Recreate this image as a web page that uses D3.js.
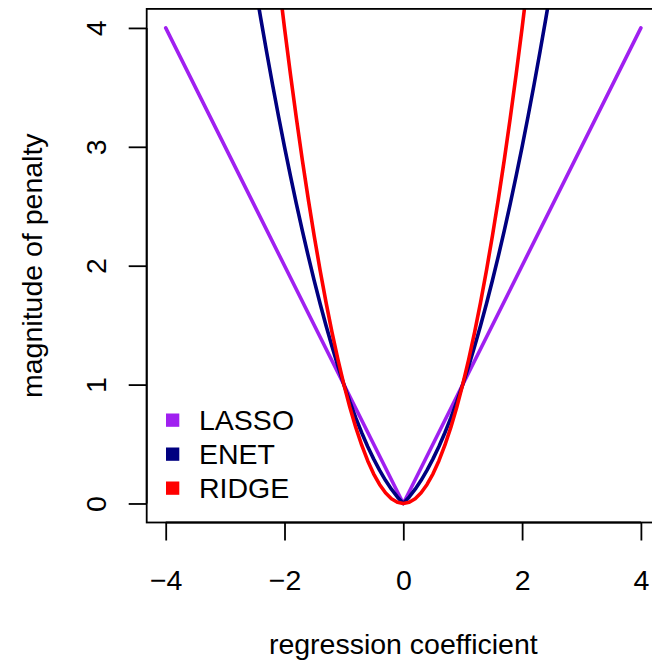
<!DOCTYPE html>
<html>
<head>
<meta charset="utf-8">
<script src="https://cdn.jsdelivr.net/npm/d3@7"></script>
<style>
  html, body { margin: 0; padding: 0; background: #fff; }
  svg { display: block; }
  text { font-family: "Liberation Sans", Arial, Helvetica, sans-serif; fill: #000; }
</style>
</head>
<body>
<svg id="chart" width="652" height="665"></svg>
<script>
// ---- data ----
const seriesNames = ["LASSO", "ENET", "RIDGE"];
const seriesColors = ["#A020F0", "#000080", "#FF0000"];

const lassoX = [-4, 0, 4];
const lassoY = [4, 0, 4];

const coefX = [-2.6, -2.5, -2.4, -2.3, -2.2, -2.1, -2.0, -1.9, -1.8, -1.7, -1.6, -1.5, -1.4, -1.3, -1.2, -1.1,
  -1.0, -0.9, -0.8, -0.7, -0.6, -0.5, -0.4, -0.3, -0.2, -0.1, 0,
  0.1, 0.2, 0.3, 0.4, 0.5, 0.6, 0.7, 0.8, 0.9, 1.0,
  1.1, 1.2, 1.3, 1.4, 1.5, 1.6, 1.7, 1.8, 1.9, 2.0, 2.1, 2.2, 2.3, 2.4, 2.5, 2.6];

const enetY = [4.68, 4.375, 4.08, 3.795, 3.52, 3.255, 3.0, 2.755, 2.52, 2.295, 2.08, 1.875, 1.68, 1.495, 1.32, 1.155,
  1.0, 0.855, 0.72, 0.595, 0.48, 0.375, 0.28, 0.195, 0.12, 0.055, 0,
  0.055, 0.12, 0.195, 0.28, 0.375, 0.48, 0.595, 0.72, 0.855, 1.0,
  1.155, 1.32, 1.495, 1.68, 1.875, 2.08, 2.295, 2.52, 2.755, 3.0, 3.255, 3.52, 3.795, 4.08, 4.375, 4.68];

const ridgeY = [6.76, 6.25, 5.76, 5.29, 4.84, 4.41, 4.0, 3.61, 3.24, 2.89, 2.56, 2.25, 1.96, 1.69, 1.44, 1.21,
  1.0, 0.81, 0.64, 0.49, 0.36, 0.25, 0.16, 0.09, 0.04, 0.01, 0,
  0.01, 0.04, 0.09, 0.16, 0.25, 0.36, 0.49, 0.64, 0.81, 1.0,
  1.21, 1.44, 1.69, 1.96, 2.25, 2.56, 2.89, 3.24, 3.61, 4.0, 4.41, 4.84, 5.29, 5.76, 6.25, 6.76];

const xTicks = [-4, -2, 0, 2, 4];
const yTicks = [0, 1, 2, 3, 4];
const xTitle = "regression coefficient";
const yTitle = "magnitude of penalty";

// ---- layout ----
const svg = d3.select("#chart");
const plot = { left: 146.7, right: 659.9, top: 8.9, bottom: 522.5 };
const fs = 28.5;

// R-style 4% expansion of the data range
const x = d3.scaleLinear().domain([-4.32, 4.32]).range([plot.left, plot.right]);
const y = d3.scaleLinear().domain([-0.16, 4.16]).range([plot.bottom, plot.top]);

svg.append("defs").append("clipPath").attr("id", "plotclip")
  .append("rect")
  .attr("x", plot.left).attr("y", plot.top)
  .attr("width", plot.right - plot.left).attr("height", plot.bottom - plot.top);

// curves
const line = d3.line().x(d => x(d[0])).y(d => y(d[1]));
const curves = [
  d3.zip(lassoX, lassoY),
  d3.zip(coefX, enetY),
  d3.zip(coefX, ridgeY)
];
const gCurves = svg.append("g").attr("clip-path", "url(#plotclip)");
curves.forEach((pts, i) => {
  gCurves.append("path")
    .attr("d", line(pts))
    .attr("fill", "none")
    .attr("stroke", seriesColors[i])
    .attr("stroke-width", 3.6)
    .attr("stroke-linecap", "round")
    .attr("stroke-linejoin", "round");
});

// box
svg.append("rect")
  .attr("x", plot.left).attr("y", plot.top)
  .attr("width", plot.right - plot.left).attr("height", plot.bottom - plot.top)
  .attr("fill", "none").attr("stroke", "#000").attr("stroke-width", 1.8);

// x axis
const xAxis = d3.axisBottom(x).tickValues(xTicks).tickSize(18).tickPadding(12)
  .tickFormat(d => d < 0 ? "\u2212" + Math.abs(d) : String(d));
const gx = svg.append("g").attr("transform", `translate(0,${plot.bottom})`).call(xAxis);
gx.select(".domain").attr("d", `M${x(xTicks[0])},0H${x(xTicks[xTicks.length - 1])}`)
  .attr("stroke-width", 1.8);
gx.selectAll(".tick line").attr("stroke-width", 1.8);
gx.selectAll(".tick text")
  .attr("font-size", fs).attr("font-family", "Liberation Sans, Arial, sans-serif")
  .attr("fill", "#000")
  .attr("dy", null).attr("y", 590 - plot.bottom);

// y axis
const yAxis = d3.axisLeft(y).tickValues(yTicks).tickSize(18).tickFormat(d3.format("d"));
const gy = svg.append("g").attr("transform", `translate(${plot.left},0)`).call(yAxis);
gy.select(".domain").attr("d", `M0,${y(yTicks[0])}V${y(yTicks[yTicks.length - 1])}`)
  .attr("stroke-width", 1.8);
gy.selectAll(".tick line").attr("stroke-width", 1.8);
gy.selectAll(".tick text")
  .attr("font-size", fs).attr("font-family", "Liberation Sans, Arial, sans-serif")
  .attr("fill", "#000")
  .attr("x", null).attr("dy", null)
  .attr("text-anchor", "middle")
  .attr("transform", `translate(${106 - plot.left},0) rotate(-90)`);

// axis titles
svg.append("text")
  .attr("x", (plot.left + plot.right) / 2).attr("y", 654)
  .attr("text-anchor", "middle").attr("font-size", fs)
  .text(xTitle);
svg.append("text")
  .attr("transform", `translate(41.5,${(plot.top + plot.bottom) / 2}) rotate(-90)`)
  .attr("text-anchor", "middle").attr("font-size", fs)
  .text(yTitle);

// legend
const legendBaselines = [430, 464, 498];
const legend = svg.append("g");
seriesNames.forEach((name, i) => {
  legend.append("rect")
    .attr("x", 166).attr("y", legendBaselines[i] - 16.5)
    .attr("width", 13.3).attr("height", 13.3)
    .attr("fill", seriesColors[i]);
  legend.append("text")
    .attr("x", 199).attr("y", legendBaselines[i])
    .attr("font-size", fs)
    .text(name);
});
</script>
</body>
</html>
